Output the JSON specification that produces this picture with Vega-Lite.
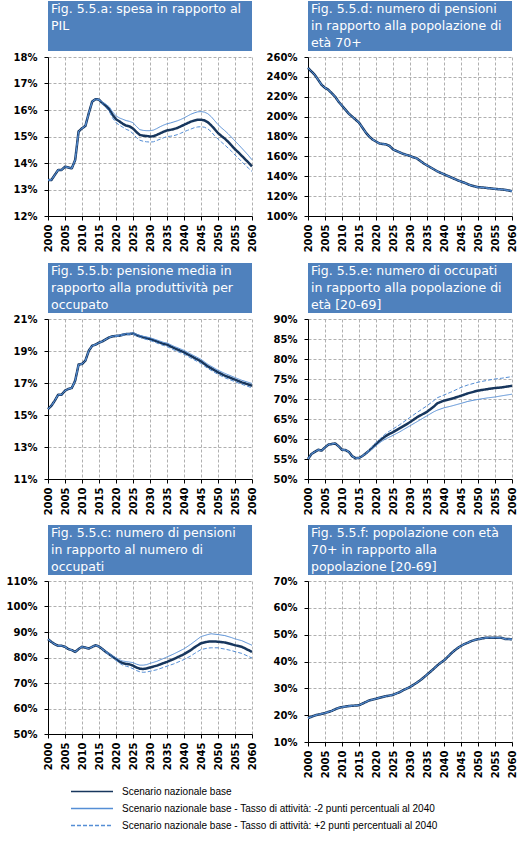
{
"$schema": "https://vega.github.io/schema/vega-lite/v6.json",
"padding": {"left": 6, "top": 1, "right": 0, "bottom": 0},
"background": "white",
"config": {
  "font": "DejaVu Sans",
  "view": {"stroke": null},
  "axis": {"domainColor": "#000000", "tickColor": "#000000", "labelColor": "#000000", "labelFont": "DejaVu Sans", "labelFontSize": 10, "labelFontWeight": "bold", "gridColor": "#B0B0B0", "gridDash": [3, 2], "gridWidth": 1, "tickSize": 4, "domainWidth": 1, "title": null},
  "axisX": {"labelAngle": 270, "labelPadding": 4},
  "axisY": {"labelPadding": 7},
  "legend": {"orient": "none", "legendX": 22, "legendY": 783, "title": null, "symbolType": "stroke", "symbolSize": 1764, "symbolStrokeWidth": 1.5, "clipHeight": 15, "rowPadding": 2, "labelFont": "Liberation Sans", "labelFontSize": 10, "labelColor": "#000000", "labelLimit": 500, "labelOffset": 8, "padding": 0}
},
"datasets": {
  "series": [
    {"panel":"a","year":2000,"base":13.36,"m2":13.36,"p2":13.36},
    {"panel":"a","year":2001,"base":13.36,"m2":13.36,"p2":13.36},
    {"panel":"a","year":2002,"base":13.55,"m2":13.55,"p2":13.55},
    {"panel":"a","year":2003,"base":13.74,"m2":13.74,"p2":13.74},
    {"panel":"a","year":2004,"base":13.74,"m2":13.74,"p2":13.74},
    {"panel":"a","year":2005,"base":13.86,"m2":13.86,"p2":13.86},
    {"panel":"a","year":2006,"base":13.83,"m2":13.83,"p2":13.83},
    {"panel":"a","year":2007,"base":13.80,"m2":13.80,"p2":13.80},
    {"panel":"a","year":2008,"base":14.12,"m2":14.12,"p2":14.12},
    {"panel":"a","year":2009,"base":15.19,"m2":15.19,"p2":15.19},
    {"panel":"a","year":2010,"base":15.31,"m2":15.31,"p2":15.31},
    {"panel":"a","year":2011,"base":15.40,"m2":15.40,"p2":15.40},
    {"panel":"a","year":2012,"base":15.88,"m2":15.88,"p2":15.88},
    {"panel":"a","year":2013,"base":16.32,"m2":16.32,"p2":16.32},
    {"panel":"a","year":2014,"base":16.41,"m2":16.41,"p2":16.41},
    {"panel":"a","year":2015,"base":16.39,"m2":16.40,"p2":16.38},
    {"panel":"a","year":2016,"base":16.26,"m2":16.30,"p2":16.22},
    {"panel":"a","year":2017,"base":16.16,"m2":16.22,"p2":16.10},
    {"panel":"a","year":2018,"base":16.03,"m2":16.12,"p2":15.95},
    {"panel":"a","year":2019,"base":15.82,"m2":15.93,"p2":15.70},
    {"panel":"a","year":2020,"base":15.65,"m2":15.78,"p2":15.52},
    {"panel":"a","year":2021,"base":15.57,"m2":15.70,"p2":15.43},
    {"panel":"a","year":2022,"base":15.48,"m2":15.65,"p2":15.35},
    {"panel":"a","year":2023,"base":15.41,"m2":15.60,"p2":15.27},
    {"panel":"a","year":2024,"base":15.38,"m2":15.57,"p2":15.22},
    {"panel":"a","year":2025,"base":15.30,"m2":15.52,"p2":15.11},
    {"panel":"a","year":2026,"base":15.17,"m2":15.38,"p2":14.96},
    {"panel":"a","year":2027,"base":15.06,"m2":15.26,"p2":14.86},
    {"panel":"a","year":2028,"base":15.03,"m2":15.23,"p2":14.82},
    {"panel":"a","year":2029,"base":15.02,"m2":15.22,"p2":14.80},
    {"panel":"a","year":2030,"base":15.00,"m2":15.22,"p2":14.79},
    {"panel":"a","year":2031,"base":15.01,"m2":15.24,"p2":14.80},
    {"panel":"a","year":2032,"base":15.06,"m2":15.30,"p2":14.85},
    {"panel":"a","year":2033,"base":15.12,"m2":15.37,"p2":14.90},
    {"panel":"a","year":2034,"base":15.18,"m2":15.43,"p2":14.95},
    {"panel":"a","year":2035,"base":15.23,"m2":15.48,"p2":15.00},
    {"panel":"a","year":2036,"base":15.25,"m2":15.51,"p2":15.01},
    {"panel":"a","year":2037,"base":15.28,"m2":15.55,"p2":15.03},
    {"panel":"a","year":2038,"base":15.32,"m2":15.59,"p2":15.07},
    {"panel":"a","year":2039,"base":15.38,"m2":15.64,"p2":15.12},
    {"panel":"a","year":2040,"base":15.44,"m2":15.70,"p2":15.18},
    {"panel":"a","year":2041,"base":15.50,"m2":15.77,"p2":15.23},
    {"panel":"a","year":2042,"base":15.56,"m2":15.84,"p2":15.28},
    {"panel":"a","year":2043,"base":15.60,"m2":15.89,"p2":15.33},
    {"panel":"a","year":2044,"base":15.63,"m2":15.93,"p2":15.36},
    {"panel":"a","year":2045,"base":15.63,"m2":15.94,"p2":15.37},
    {"panel":"a","year":2046,"base":15.61,"m2":15.92,"p2":15.35},
    {"panel":"a","year":2047,"base":15.54,"m2":15.86,"p2":15.29},
    {"panel":"a","year":2048,"base":15.42,"m2":15.75,"p2":15.18},
    {"panel":"a","year":2049,"base":15.28,"m2":15.60,"p2":15.03},
    {"panel":"a","year":2050,"base":15.13,"m2":15.45,"p2":14.90},
    {"panel":"a","year":2051,"base":15.02,"m2":15.33,"p2":14.79},
    {"panel":"a","year":2052,"base":14.92,"m2":15.22,"p2":14.68},
    {"panel":"a","year":2053,"base":14.80,"m2":15.10,"p2":14.56},
    {"panel":"a","year":2054,"base":14.66,"m2":14.97,"p2":14.44},
    {"panel":"a","year":2055,"base":14.52,"m2":14.83,"p2":14.30},
    {"panel":"a","year":2056,"base":14.40,"m2":14.70,"p2":14.18},
    {"panel":"a","year":2057,"base":14.27,"m2":14.56,"p2":14.05},
    {"panel":"a","year":2058,"base":14.14,"m2":14.42,"p2":13.92},
    {"panel":"a","year":2059,"base":14.01,"m2":14.28,"p2":13.80},
    {"panel":"a","year":2060,"base":13.87,"m2":14.12,"p2":13.68},

    {"panel":"b","year":2000,"base":15.37,"m2":15.37,"p2":15.37},
    {"panel":"b","year":2001,"base":15.58,"m2":15.58,"p2":15.58},
    {"panel":"b","year":2002,"base":15.90,"m2":15.90,"p2":15.90},
    {"panel":"b","year":2003,"base":16.27,"m2":16.27,"p2":16.27},
    {"panel":"b","year":2004,"base":16.27,"m2":16.27,"p2":16.27},
    {"panel":"b","year":2005,"base":16.52,"m2":16.52,"p2":16.52},
    {"panel":"b","year":2006,"base":16.63,"m2":16.63,"p2":16.63},
    {"panel":"b","year":2007,"base":16.69,"m2":16.69,"p2":16.69},
    {"panel":"b","year":2008,"base":17.15,"m2":17.15,"p2":17.15},
    {"panel":"b","year":2009,"base":18.15,"m2":18.15,"p2":18.15},
    {"panel":"b","year":2010,"base":18.19,"m2":18.19,"p2":18.19},
    {"panel":"b","year":2011,"base":18.40,"m2":18.40,"p2":18.40},
    {"panel":"b","year":2012,"base":19.02,"m2":19.02,"p2":19.02},
    {"panel":"b","year":2013,"base":19.33,"m2":19.33,"p2":19.33},
    {"panel":"b","year":2014,"base":19.40,"m2":19.40,"p2":19.40},
    {"panel":"b","year":2015,"base":19.52,"m2":19.52,"p2":19.52},
    {"panel":"b","year":2016,"base":19.60,"m2":19.60,"p2":19.60},
    {"panel":"b","year":2017,"base":19.73,"m2":19.73,"p2":19.73},
    {"panel":"b","year":2018,"base":19.85,"m2":19.85,"p2":19.85},
    {"panel":"b","year":2019,"base":19.92,"m2":19.92,"p2":19.92},
    {"panel":"b","year":2020,"base":19.94,"m2":19.96,"p2":19.92},
    {"panel":"b","year":2021,"base":19.96,"m2":19.99,"p2":19.93},
    {"panel":"b","year":2022,"base":20.02,"m2":20.05,"p2":19.98},
    {"panel":"b","year":2023,"base":20.06,"m2":20.09,"p2":20.02},
    {"panel":"b","year":2024,"base":20.06,"m2":20.10,"p2":20.02},
    {"panel":"b","year":2025,"base":20.10,"m2":20.14,"p2":20.05},
    {"panel":"b","year":2026,"base":20.00,"m2":20.05,"p2":19.94},
    {"panel":"b","year":2027,"base":19.92,"m2":19.98,"p2":19.86},
    {"panel":"b","year":2028,"base":19.85,"m2":19.92,"p2":19.78},
    {"panel":"b","year":2030,"base":19.75,"m2":19.83,"p2":19.66},
    {"panel":"b","year":2032,"base":19.60,"m2":19.69,"p2":19.50},
    {"panel":"b","year":2034,"base":19.44,"m2":19.54,"p2":19.34},
    {"panel":"b","year":2035,"base":19.40,"m2":19.50,"p2":19.28},
    {"panel":"b","year":2037,"base":19.19,"m2":19.30,"p2":19.07},
    {"panel":"b","year":2040,"base":18.92,"m2":19.04,"p2":18.80},
    {"panel":"b","year":2042,"base":18.69,"m2":18.81,"p2":18.56},
    {"panel":"b","year":2045,"base":18.35,"m2":18.48,"p2":18.22},
    {"panel":"b","year":2047,"base":18.04,"m2":18.17,"p2":17.91},
    {"panel":"b","year":2050,"base":17.67,"m2":17.80,"p2":17.54},
    {"panel":"b","year":2052,"base":17.46,"m2":17.60,"p2":17.33},
    {"panel":"b","year":2055,"base":17.21,"m2":17.34,"p2":17.08},
    {"panel":"b","year":2057,"base":17.04,"m2":17.17,"p2":16.92},
    {"panel":"b","year":2060,"base":16.83,"m2":16.97,"p2":16.70},

    {"panel":"c","year":2000,"base":87.2,"m2":87.2,"p2":87.2},
    {"panel":"c","year":2001,"base":86.1,"m2":86.1,"p2":86.1},
    {"panel":"c","year":2002,"base":85.2,"m2":85.2,"p2":85.2},
    {"panel":"c","year":2003,"base":84.6,"m2":84.6,"p2":84.6},
    {"panel":"c","year":2004,"base":84.6,"m2":84.6,"p2":84.6},
    {"panel":"c","year":2005,"base":84.2,"m2":84.2,"p2":84.2},
    {"panel":"c","year":2006,"base":83.3,"m2":83.3,"p2":83.3},
    {"panel":"c","year":2007,"base":82.9,"m2":82.9,"p2":82.9},
    {"panel":"c","year":2008,"base":82.2,"m2":82.2,"p2":82.2},
    {"panel":"c","year":2009,"base":83.3,"m2":83.3,"p2":83.3},
    {"panel":"c","year":2010,"base":84.2,"m2":84.2,"p2":84.2},
    {"panel":"c","year":2011,"base":83.9,"m2":83.9,"p2":83.9},
    {"panel":"c","year":2012,"base":83.5,"m2":83.5,"p2":83.5},
    {"panel":"c","year":2013,"base":84.2,"m2":84.2,"p2":84.2},
    {"panel":"c","year":2014,"base":84.8,"m2":84.8,"p2":84.8},
    {"panel":"c","year":2015,"base":84.3,"m2":84.3,"p2":84.3},
    {"panel":"c","year":2016,"base":83.3,"m2":83.4,"p2":83.2},
    {"panel":"c","year":2017,"base":82.2,"m2":82.4,"p2":82.0},
    {"panel":"c","year":2018,"base":81.3,"m2":81.6,"p2":81.0},
    {"panel":"c","year":2019,"base":80.3,"m2":80.7,"p2":79.9},
    {"panel":"c","year":2020,"base":79.4,"m2":79.9,"p2":78.9},
    {"panel":"c","year":2021,"base":78.4,"m2":79.1,"p2":77.8},
    {"panel":"c","year":2022,"base":77.8,"m2":78.6,"p2":77.0},
    {"panel":"c","year":2023,"base":77.5,"m2":78.4,"p2":76.6},
    {"panel":"c","year":2024,"base":77.3,"m2":78.2,"p2":76.2},
    {"panel":"c","year":2025,"base":76.8,"m2":78.0,"p2":75.6},
    {"panel":"c","year":2026,"base":76.1,"m2":77.4,"p2":74.9},
    {"panel":"c","year":2027,"base":75.6,"m2":77.0,"p2":74.4},
    {"panel":"c","year":2028,"base":75.5,"m2":77.0,"p2":74.2},
    {"panel":"c","year":2029,"base":75.7,"m2":77.2,"p2":74.3},
    {"panel":"c","year":2030,"base":76.1,"m2":77.7,"p2":74.6},
    {"panel":"c","year":2032,"base":76.8,"m2":78.5,"p2":75.2},
    {"panel":"c","year":2035,"base":78.3,"m2":80.2,"p2":76.6},
    {"panel":"c","year":2037,"base":79.4,"m2":81.4,"p2":77.5},
    {"panel":"c","year":2040,"base":81.3,"m2":83.4,"p2":79.2},
    {"panel":"c","year":2042,"base":82.9,"m2":85.2,"p2":80.6},
    {"panel":"c","year":2043,"base":83.9,"m2":86.2,"p2":81.5},
    {"panel":"c","year":2045,"base":85.6,"m2":88.2,"p2":83.1},
    {"panel":"c","year":2047,"base":86.2,"m2":89.0,"p2":83.7},
    {"panel":"c","year":2048,"base":86.3,"m2":89.3,"p2":83.8},
    {"panel":"c","year":2050,"base":86.2,"m2":89.0,"p2":83.8},
    {"panel":"c","year":2052,"base":85.9,"m2":88.6,"p2":83.3},
    {"panel":"c","year":2054,"base":85.2,"m2":87.8,"p2":82.7},
    {"panel":"c","year":2055,"base":84.8,"m2":87.3,"p2":82.3},
    {"panel":"c","year":2057,"base":84.2,"m2":86.6,"p2":81.6},
    {"panel":"c","year":2060,"base":82.2,"m2":84.8,"p2":79.8},

    {"panel":"d","year":2000,"base":249,"m2":249,"p2":249},
    {"panel":"d","year":2001,"base":245.5,"m2":245.5,"p2":245.5},
    {"panel":"d","year":2002,"base":242,"m2":242,"p2":242},
    {"panel":"d","year":2003,"base":237,"m2":237,"p2":237},
    {"panel":"d","year":2004,"base":232,"m2":232,"p2":232},
    {"panel":"d","year":2005,"base":229,"m2":229,"p2":229},
    {"panel":"d","year":2006,"base":227,"m2":227,"p2":227},
    {"panel":"d","year":2007,"base":223.5,"m2":223.5,"p2":223.5},
    {"panel":"d","year":2008,"base":220,"m2":220,"p2":220},
    {"panel":"d","year":2009,"base":215,"m2":215,"p2":215},
    {"panel":"d","year":2010,"base":211,"m2":211,"p2":211},
    {"panel":"d","year":2011,"base":207,"m2":207,"p2":207},
    {"panel":"d","year":2012,"base":203,"m2":203,"p2":203},
    {"panel":"d","year":2013,"base":200,"m2":200,"p2":200},
    {"panel":"d","year":2014,"base":197,"m2":197,"p2":197},
    {"panel":"d","year":2015,"base":194,"m2":194,"p2":194},
    {"panel":"d","year":2016,"base":189,"m2":189,"p2":189},
    {"panel":"d","year":2017,"base":184,"m2":184,"p2":184},
    {"panel":"d","year":2018,"base":180,"m2":180,"p2":180},
    {"panel":"d","year":2019,"base":177,"m2":177,"p2":177},
    {"panel":"d","year":2020,"base":175,"m2":175,"p2":175},
    {"panel":"d","year":2021,"base":173,"m2":173,"p2":173},
    {"panel":"d","year":2022,"base":172.5,"m2":172.5,"p2":172.5},
    {"panel":"d","year":2023,"base":172,"m2":172,"p2":172},
    {"panel":"d","year":2024,"base":170.5,"m2":170.5,"p2":170.5},
    {"panel":"d","year":2025,"base":167,"m2":167,"p2":167},
    {"panel":"d","year":2026,"base":165.5,"m2":165.5,"p2":165.5},
    {"panel":"d","year":2027,"base":164,"m2":164,"p2":164},
    {"panel":"d","year":2028,"base":162.5,"m2":162.5,"p2":162.5},
    {"panel":"d","year":2029,"base":161.5,"m2":161.5,"p2":161.5},
    {"panel":"d","year":2030,"base":160.5,"m2":160.5,"p2":160.5},
    {"panel":"d","year":2031,"base":159,"m2":159,"p2":159},
    {"panel":"d","year":2032,"base":158,"m2":158,"p2":158},
    {"panel":"d","year":2033,"base":155.5,"m2":155.5,"p2":155.5},
    {"panel":"d","year":2034,"base":153,"m2":153,"p2":153},
    {"panel":"d","year":2035,"base":151,"m2":151,"p2":151},
    {"panel":"d","year":2036,"base":149,"m2":149,"p2":149},
    {"panel":"d","year":2037,"base":147,"m2":147,"p2":147},
    {"panel":"d","year":2038,"base":145,"m2":145,"p2":145},
    {"panel":"d","year":2039,"base":143.5,"m2":143.5,"p2":143.5},
    {"panel":"d","year":2040,"base":142,"m2":142,"p2":142},
    {"panel":"d","year":2041,"base":140.5,"m2":140.5,"p2":140.5},
    {"panel":"d","year":2042,"base":139,"m2":139,"p2":139},
    {"panel":"d","year":2043,"base":137.5,"m2":137.5,"p2":137.5},
    {"panel":"d","year":2044,"base":136,"m2":136,"p2":136},
    {"panel":"d","year":2045,"base":134.7,"m2":134.7,"p2":134.7},
    {"panel":"d","year":2046,"base":133.5,"m2":133.5,"p2":133.5},
    {"panel":"d","year":2047,"base":132,"m2":132,"p2":132},
    {"panel":"d","year":2048,"base":130.7,"m2":130.7,"p2":130.7},
    {"panel":"d","year":2049,"base":129.8,"m2":129.8,"p2":129.8},
    {"panel":"d","year":2050,"base":129,"m2":129,"p2":129},
    {"panel":"d","year":2052,"base":128.5,"m2":128.5,"p2":128.5},
    {"panel":"d","year":2053,"base":128,"m2":128,"p2":128},
    {"panel":"d","year":2055,"base":127.3,"m2":127.3,"p2":127.3},
    {"panel":"d","year":2057,"base":126.7,"m2":126.7,"p2":126.7},
    {"panel":"d","year":2058,"base":126.3,"m2":126.3,"p2":126.3},
    {"panel":"d","year":2060,"base":125,"m2":125,"p2":125},

    {"panel":"e","year":2000,"base":55.0,"m2":55.0,"p2":55.0},
    {"panel":"e","year":2001,"base":56.25,"m2":56.25,"p2":56.25},
    {"panel":"e","year":2002,"base":56.8,"m2":56.8,"p2":56.8},
    {"panel":"e","year":2003,"base":57.3,"m2":57.3,"p2":57.3},
    {"panel":"e","year":2004,"base":57.1,"m2":57.1,"p2":57.1},
    {"panel":"e","year":2005,"base":57.9,"m2":57.9,"p2":57.9},
    {"panel":"e","year":2006,"base":58.6,"m2":58.6,"p2":58.6},
    {"panel":"e","year":2007,"base":58.75,"m2":58.75,"p2":58.75},
    {"panel":"e","year":2008,"base":58.9,"m2":58.9,"p2":58.9},
    {"panel":"e","year":2009,"base":58.2,"m2":58.2,"p2":58.2},
    {"panel":"e","year":2010,"base":57.3,"m2":57.3,"p2":57.3},
    {"panel":"e","year":2011,"base":57.25,"m2":57.25,"p2":57.25},
    {"panel":"e","year":2012,"base":56.8,"m2":56.8,"p2":56.8},
    {"panel":"e","year":2013,"base":55.7,"m2":55.7,"p2":55.7},
    {"panel":"e","year":2014,"base":55.2,"m2":55.2,"p2":55.2},
    {"panel":"e","year":2015,"base":55.25,"m2":55.25,"p2":55.25},
    {"panel":"e","year":2016,"base":55.75,"m2":55.7,"p2":55.8},
    {"panel":"e","year":2017,"base":56.4,"m2":56.3,"p2":56.5},
    {"panel":"e","year":2018,"base":57.1,"m2":56.9,"p2":57.3},
    {"panel":"e","year":2019,"base":57.9,"m2":57.6,"p2":58.2},
    {"panel":"e","year":2020,"base":58.75,"m2":58.3,"p2":59.1},
    {"panel":"e","year":2021,"base":59.5,"m2":59.0,"p2":59.9},
    {"panel":"e","year":2022,"base":60.2,"m2":59.6,"p2":60.7},
    {"panel":"e","year":2023,"base":60.8,"m2":60.1,"p2":61.4},
    {"panel":"e","year":2024,"base":61.3,"m2":60.5,"p2":62.0},
    {"panel":"e","year":2025,"base":61.7,"m2":60.9,"p2":62.5},
    {"panel":"e","year":2027,"base":62.7,"m2":61.8,"p2":63.6},
    {"panel":"e","year":2030,"base":64.2,"m2":63.3,"p2":65.4},
    {"panel":"e","year":2032,"base":65.4,"m2":64.3,"p2":66.6},
    {"panel":"e","year":2035,"base":66.8,"m2":65.8,"p2":68.3},
    {"panel":"e","year":2037,"base":68.1,"m2":66.8,"p2":69.6},
    {"panel":"e","year":2038,"base":68.9,"m2":67.2,"p2":70.3},
    {"panel":"e","year":2040,"base":69.6,"m2":67.8,"p2":71.0},
    {"panel":"e","year":2042,"base":70.0,"m2":68.2,"p2":71.7},
    {"panel":"e","year":2045,"base":70.8,"m2":68.9,"p2":72.9},
    {"panel":"e","year":2047,"base":71.4,"m2":69.4,"p2":73.5},
    {"panel":"e","year":2050,"base":72.1,"m2":69.9,"p2":74.2},
    {"panel":"e","year":2053,"base":72.5,"m2":70.3,"p2":74.7},
    {"panel":"e","year":2055,"base":72.75,"m2":70.5,"p2":75.0},
    {"panel":"e","year":2057,"base":72.9,"m2":70.8,"p2":75.2},
    {"panel":"e","year":2060,"base":73.3,"m2":71.2,"p2":75.6},

    {"panel":"f","year":2000,"base":18.9,"m2":18.9,"p2":18.9},
    {"panel":"f","year":2001,"base":19.4,"m2":19.4,"p2":19.4},
    {"panel":"f","year":2002,"base":19.9,"m2":19.9,"p2":19.9},
    {"panel":"f","year":2003,"base":20.2,"m2":20.2,"p2":20.2},
    {"panel":"f","year":2004,"base":20.5,"m2":20.5,"p2":20.5},
    {"panel":"f","year":2005,"base":20.8,"m2":20.8,"p2":20.8},
    {"panel":"f","year":2006,"base":21.2,"m2":21.2,"p2":21.2},
    {"panel":"f","year":2007,"base":21.6,"m2":21.6,"p2":21.6},
    {"panel":"f","year":2008,"base":22.2,"m2":22.2,"p2":22.2},
    {"panel":"f","year":2009,"base":22.7,"m2":22.7,"p2":22.7},
    {"panel":"f","year":2010,"base":23.0,"m2":23.0,"p2":23.0},
    {"panel":"f","year":2011,"base":23.2,"m2":23.2,"p2":23.2},
    {"panel":"f","year":2012,"base":23.4,"m2":23.4,"p2":23.4},
    {"panel":"f","year":2013,"base":23.5,"m2":23.5,"p2":23.5},
    {"panel":"f","year":2014,"base":23.6,"m2":23.6,"p2":23.6},
    {"panel":"f","year":2015,"base":23.7,"m2":23.7,"p2":23.7},
    {"panel":"f","year":2016,"base":24.3,"m2":24.3,"p2":24.3},
    {"panel":"f","year":2017,"base":24.9,"m2":24.9,"p2":24.9},
    {"panel":"f","year":2018,"base":25.5,"m2":25.5,"p2":25.5},
    {"panel":"f","year":2019,"base":25.8,"m2":25.8,"p2":25.8},
    {"panel":"f","year":2020,"base":26.1,"m2":26.1,"p2":26.1},
    {"panel":"f","year":2021,"base":26.5,"m2":26.5,"p2":26.5},
    {"panel":"f","year":2022,"base":26.8,"m2":26.8,"p2":26.8},
    {"panel":"f","year":2023,"base":27.1,"m2":27.1,"p2":27.1},
    {"panel":"f","year":2024,"base":27.3,"m2":27.3,"p2":27.3},
    {"panel":"f","year":2025,"base":27.6,"m2":27.6,"p2":27.6},
    {"panel":"f","year":2026,"base":28.1,"m2":28.1,"p2":28.1},
    {"panel":"f","year":2027,"base":28.6,"m2":28.6,"p2":28.6},
    {"panel":"f","year":2028,"base":29.3,"m2":29.3,"p2":29.3},
    {"panel":"f","year":2029,"base":29.9,"m2":29.9,"p2":29.9},
    {"panel":"f","year":2030,"base":30.5,"m2":30.5,"p2":30.5},
    {"panel":"f","year":2031,"base":31.3,"m2":31.3,"p2":31.3},
    {"panel":"f","year":2032,"base":32.1,"m2":32.1,"p2":32.1},
    {"panel":"f","year":2033,"base":33.0,"m2":33.0,"p2":33.0},
    {"panel":"f","year":2034,"base":34.0,"m2":34.0,"p2":34.0},
    {"panel":"f","year":2035,"base":35.1,"m2":35.1,"p2":35.1},
    {"panel":"f","year":2036,"base":36.2,"m2":36.2,"p2":36.2},
    {"panel":"f","year":2037,"base":37.3,"m2":37.3,"p2":37.3},
    {"panel":"f","year":2038,"base":38.5,"m2":38.5,"p2":38.5},
    {"panel":"f","year":2039,"base":39.5,"m2":39.5,"p2":39.5},
    {"panel":"f","year":2040,"base":40.4,"m2":40.4,"p2":40.4},
    {"panel":"f","year":2041,"base":41.6,"m2":41.6,"p2":41.6},
    {"panel":"f","year":2042,"base":42.9,"m2":42.9,"p2":42.9},
    {"panel":"f","year":2043,"base":44.0,"m2":44.0,"p2":44.0},
    {"panel":"f","year":2044,"base":45.0,"m2":45.0,"p2":45.0},
    {"panel":"f","year":2045,"base":45.8,"m2":45.8,"p2":45.8},
    {"panel":"f","year":2046,"base":46.5,"m2":46.5,"p2":46.5},
    {"panel":"f","year":2047,"base":47.0,"m2":47.0,"p2":47.0},
    {"panel":"f","year":2048,"base":47.6,"m2":47.6,"p2":47.6},
    {"panel":"f","year":2049,"base":48.0,"m2":48.0,"p2":48.0},
    {"panel":"f","year":2050,"base":48.3,"m2":48.3,"p2":48.3},
    {"panel":"f","year":2052,"base":48.8,"m2":48.8,"p2":48.8},
    {"panel":"f","year":2055,"base":48.9,"m2":48.9,"p2":48.9},
    {"panel":"f","year":2057,"base":48.8,"m2":48.8,"p2":48.8},
    {"panel":"f","year":2058,"base":48.4,"m2":48.4,"p2":48.4},
    {"panel":"f","year":2060,"base":48.3,"m2":48.3,"p2":48.3}
  ]
},
"columns": 2,
"bounds": "flush",
"align": "each",
"spacing": {"row": 6, "column": 56},
"concat": [
  {"width": 204, "height": 50, "view": {"fill": "#4F81BD", "stroke": null},
   "data": {"values": [{"line": 1, "text": "Fig. 5.5.a: spesa in rapporto al"}, {"line": 2, "text": "PIL"}]},
   "mark": {"type": "text", "align": "left", "baseline": "middle", "dx": 3, "color": "#FFFFFF", "font": "DejaVu Sans", "fontSize": 12.5},
   "encoding": {"x": {"datum": 0, "type": "quantitative", "scale": {"domain": [0, 1]}, "axis": null},
                "y": {"field": "line", "type": "ordinal", "scale": {"domain": [1, 2, 3], "paddingInner": 0, "paddingOuter": 0.0625}, "axis": null},
                "text": {"field": "text"}}},
  {"width": 204, "height": 50, "view": {"fill": "#4F81BD", "stroke": null},
   "data": {"values": [{"line": 1, "text": "Fig. 5.5.d: numero di pensioni"}, {"line": 2, "text": "in rapporto alla popolazione di"}, {"line": 3, "text": "età 70+"}]},
   "mark": {"type": "text", "align": "left", "baseline": "middle", "dx": 3, "color": "#FFFFFF", "font": "DejaVu Sans", "fontSize": 12.5},
   "encoding": {"x": {"datum": 0, "type": "quantitative", "scale": {"domain": [0, 1]}, "axis": null},
                "y": {"field": "line", "type": "ordinal", "scale": {"domain": [1, 2, 3], "paddingInner": 0, "paddingOuter": 0.0625}, "axis": null},
                "text": {"field": "text"}}},
  {"width": 204, "height": 159, "data": {"name": "series"},
   "transform": [{"filter": "datum.panel == 'a'"}, {"fold": ["base", "m2", "p2"], "as": ["scenario", "value"]}],
   "encoding": {
     "x": {"field": "year", "type": "quantitative", "scale": {"domain": [2000, 2060], "nice": false, "zero": false}, "axis": {"values": [2000,2005,2010,2015,2020,2025,2030,2035,2040,2045,2050,2055,2060], "format": "d"}},
     "y": {"field": "value", "type": "quantitative", "scale": {"domain": [12, 18], "nice": false, "zero": false}, "axis": {"values": [12,13,14,15,16,17,18], "labelExpr": "datum.value + '%'"}},
     "color": {"field": "scenario", "type": "nominal", "scale": {"domain": ["base","m2","p2"], "range": ["#17365D","#558ED5","#558ED5"]}, "legend": {"orient": "none", "legendX": 22, "legendY": 783, "labelExpr": "datum.label == 'base' ? 'Scenario nazionale base' : datum.label == 'm2' ? 'Scenario nazionale base - Tasso di attività: -2 punti percentuali al 2040' : 'Scenario nazionale base - Tasso di attività: +2 punti percentuali al 2040'"}},
     "strokeDash": {"field": "scenario", "type": "nominal", "scale": {"domain": ["base","m2","p2"], "range": [[1,0],[1,0],[4,2]]}, "legend": {"orient": "none", "legendX": 22, "legendY": 783, "labelExpr": "datum.label == 'base' ? 'Scenario nazionale base' : datum.label == 'm2' ? 'Scenario nazionale base - Tasso di attività: -2 punti percentuali al 2040' : 'Scenario nazionale base - Tasso di attività: +2 punti percentuali al 2040'"}}
   },
   "layer": [
     {"transform": [{"filter": "datum.scenario == 'base'"}], "mark": {"type": "line", "strokeWidth": 2.5, "strokeJoin": "round"}},
     {"transform": [{"filter": "datum.scenario == 'm2'"}], "mark": {"type": "line", "strokeWidth": 1}},
     {"transform": [{"filter": "datum.scenario == 'p2'"}], "mark": {"type": "line", "strokeWidth": 1}}
   ]},
  {"width": 204, "height": 159, "data": {"name": "series"},
   "transform": [{"filter": "datum.panel == 'd'"}, {"fold": ["base", "m2", "p2"], "as": ["scenario", "value"]}],
   "encoding": {
     "x": {"field": "year", "type": "quantitative", "scale": {"domain": [2000, 2060], "nice": false, "zero": false}, "axis": {"values": [2000,2005,2010,2015,2020,2025,2030,2035,2040,2045,2050,2055,2060], "format": "d"}},
     "y": {"field": "value", "type": "quantitative", "scale": {"domain": [100, 260], "nice": false, "zero": false}, "axis": {"values": [100,120,140,160,180,200,220,240,260], "labelExpr": "datum.value + '%'"}},
     "color": {"field": "scenario", "type": "nominal", "scale": {"domain": ["base","m2","p2"], "range": ["#17365D","#558ED5","#558ED5"]}},
     "strokeDash": {"field": "scenario", "type": "nominal", "scale": {"domain": ["base","m2","p2"], "range": [[1,0],[1,0],[4,2]]}}
   },
   "layer": [
     {"transform": [{"filter": "datum.scenario == 'base'"}], "mark": {"type": "line", "strokeWidth": 2.5, "strokeJoin": "round"}},
     {"transform": [{"filter": "datum.scenario == 'm2'"}], "mark": {"type": "line", "strokeWidth": 1}},
     {"transform": [{"filter": "datum.scenario == 'p2'"}], "mark": {"type": "line", "strokeWidth": 1}}
   ]},
  {"width": 204, "height": 35, "data": {"values": [{"k": 0}]}, "mark": {"type": "point", "opacity": 0}},
  {"width": 204, "height": 35, "data": {"values": [{"k": 0}]}, "mark": {"type": "point", "opacity": 0}},
  {"width": 204, "height": 50, "view": {"fill": "#4F81BD", "stroke": null},
   "data": {"values": [{"line": 1, "text": "Fig. 5.5.b: pensione media in"}, {"line": 2, "text": "rapporto alla produttività per"}, {"line": 3, "text": "occupato"}]},
   "mark": {"type": "text", "align": "left", "baseline": "middle", "dx": 3, "color": "#FFFFFF", "font": "DejaVu Sans", "fontSize": 12.5},
   "encoding": {"x": {"datum": 0, "type": "quantitative", "scale": {"domain": [0, 1]}, "axis": null},
                "y": {"field": "line", "type": "ordinal", "scale": {"domain": [1, 2, 3], "paddingInner": 0, "paddingOuter": 0.0625}, "axis": null},
                "text": {"field": "text"}}},
  {"width": 204, "height": 50, "view": {"fill": "#4F81BD", "stroke": null},
   "data": {"values": [{"line": 1, "text": "Fig. 5.5.e: numero di occupati"}, {"line": 2, "text": "in rapporto alla popolazione di"}, {"line": 3, "text": "età [20-69]"}]},
   "mark": {"type": "text", "align": "left", "baseline": "middle", "dx": 3, "color": "#FFFFFF", "font": "DejaVu Sans", "fontSize": 12.5},
   "encoding": {"x": {"datum": 0, "type": "quantitative", "scale": {"domain": [0, 1]}, "axis": null},
                "y": {"field": "line", "type": "ordinal", "scale": {"domain": [1, 2, 3], "paddingInner": 0, "paddingOuter": 0.0625}, "axis": null},
                "text": {"field": "text"}}},
  {"width": 204, "height": 160, "data": {"name": "series"},
   "transform": [{"filter": "datum.panel == 'b'"}, {"fold": ["base", "m2", "p2"], "as": ["scenario", "value"]}],
   "encoding": {
     "x": {"field": "year", "type": "quantitative", "scale": {"domain": [2000, 2060], "nice": false, "zero": false}, "axis": {"values": [2000,2005,2010,2015,2020,2025,2030,2035,2040,2045,2050,2055,2060], "format": "d"}},
     "y": {"field": "value", "type": "quantitative", "scale": {"domain": [11, 21], "nice": false, "zero": false}, "axis": {"values": [11,13,15,17,19,21], "labelExpr": "datum.value + '%'"}},
     "color": {"field": "scenario", "type": "nominal", "scale": {"domain": ["base","m2","p2"], "range": ["#17365D","#558ED5","#558ED5"]}},
     "strokeDash": {"field": "scenario", "type": "nominal", "scale": {"domain": ["base","m2","p2"], "range": [[1,0],[1,0],[4,2]]}}
   },
   "layer": [
     {"transform": [{"filter": "datum.scenario == 'base'"}], "mark": {"type": "line", "strokeWidth": 2.5, "strokeJoin": "round"}},
     {"transform": [{"filter": "datum.scenario == 'm2'"}], "mark": {"type": "line", "strokeWidth": 1}},
     {"transform": [{"filter": "datum.scenario == 'p2'"}], "mark": {"type": "line", "strokeWidth": 1}}
   ]},
  {"width": 204, "height": 160, "data": {"name": "series"},
   "transform": [{"filter": "datum.panel == 'e'"}, {"fold": ["base", "m2", "p2"], "as": ["scenario", "value"]}],
   "encoding": {
     "x": {"field": "year", "type": "quantitative", "scale": {"domain": [2000, 2060], "nice": false, "zero": false}, "axis": {"values": [2000,2005,2010,2015,2020,2025,2030,2035,2040,2045,2050,2055,2060], "format": "d"}},
     "y": {"field": "value", "type": "quantitative", "scale": {"domain": [50, 90], "nice": false, "zero": false}, "axis": {"values": [50,55,60,65,70,75,80,85,90], "labelExpr": "datum.value + '%'"}},
     "color": {"field": "scenario", "type": "nominal", "scale": {"domain": ["base","m2","p2"], "range": ["#17365D","#558ED5","#558ED5"]}},
     "strokeDash": {"field": "scenario", "type": "nominal", "scale": {"domain": ["base","m2","p2"], "range": [[1,0],[1,0],[4,2]]}}
   },
   "layer": [
     {"transform": [{"filter": "datum.scenario == 'base'"}], "mark": {"type": "line", "strokeWidth": 2.5, "strokeJoin": "round"}},
     {"transform": [{"filter": "datum.scenario == 'm2'"}], "mark": {"type": "line", "strokeWidth": 1}},
     {"transform": [{"filter": "datum.scenario == 'p2'"}], "mark": {"type": "line", "strokeWidth": 1}}
   ]},
  {"width": 204, "height": 34, "data": {"values": [{"k": 0}]}, "mark": {"type": "point", "opacity": 0}},
  {"width": 204, "height": 34, "data": {"values": [{"k": 0}]}, "mark": {"type": "point", "opacity": 0}},
  {"width": 204, "height": 50, "view": {"fill": "#4F81BD", "stroke": null},
   "data": {"values": [{"line": 1, "text": "Fig. 5.5.c: numero di pensioni"}, {"line": 2, "text": "in rapporto al numero di"}, {"line": 3, "text": "occupati"}]},
   "mark": {"type": "text", "align": "left", "baseline": "middle", "dx": 3, "color": "#FFFFFF", "font": "DejaVu Sans", "fontSize": 12.5},
   "encoding": {"x": {"datum": 0, "type": "quantitative", "scale": {"domain": [0, 1]}, "axis": null},
                "y": {"field": "line", "type": "ordinal", "scale": {"domain": [1, 2, 3], "paddingInner": 0, "paddingOuter": 0.0625}, "axis": null},
                "text": {"field": "text"}}},
  {"width": 204, "height": 50, "view": {"fill": "#4F81BD", "stroke": null},
   "data": {"values": [{"line": 1, "text": "Fig. 5.5.f: popolazione con età"}, {"line": 2, "text": "70+ in rapporto alla"}, {"line": 3, "text": "popolazione [20-69]"}]},
   "mark": {"type": "text", "align": "left", "baseline": "middle", "dx": 3, "color": "#FFFFFF", "font": "DejaVu Sans", "fontSize": 12.5},
   "encoding": {"x": {"datum": 0, "type": "quantitative", "scale": {"domain": [0, 1]}, "axis": null},
                "y": {"field": "line", "type": "ordinal", "scale": {"domain": [1, 2, 3], "paddingInner": 0, "paddingOuter": 0.0625}, "axis": null},
                "text": {"field": "text"}}},
  {"width": 204, "height": 153, "data": {"name": "series"},
   "transform": [{"filter": "datum.panel == 'c'"}, {"fold": ["base", "m2", "p2"], "as": ["scenario", "value"]}],
   "encoding": {
     "x": {"field": "year", "type": "quantitative", "scale": {"domain": [2000, 2060], "nice": false, "zero": false}, "axis": {"values": [2000,2005,2010,2015,2020,2025,2030,2035,2040,2045,2050,2055,2060], "format": "d"}},
     "y": {"field": "value", "type": "quantitative", "scale": {"domain": [50, 110], "nice": false, "zero": false}, "axis": {"values": [50,60,70,80,90,100,110], "labelExpr": "datum.value + '%'"}},
     "color": {"field": "scenario", "type": "nominal", "scale": {"domain": ["base","m2","p2"], "range": ["#17365D","#558ED5","#558ED5"]}},
     "strokeDash": {"field": "scenario", "type": "nominal", "scale": {"domain": ["base","m2","p2"], "range": [[1,0],[1,0],[4,2]]}}
   },
   "layer": [
     {"transform": [{"filter": "datum.scenario == 'base'"}], "mark": {"type": "line", "strokeWidth": 2.5, "strokeJoin": "round"}},
     {"transform": [{"filter": "datum.scenario == 'm2'"}], "mark": {"type": "line", "strokeWidth": 1}},
     {"transform": [{"filter": "datum.scenario == 'p2'"}], "mark": {"type": "line", "strokeWidth": 1}}
   ]},
  {"width": 204, "height": 161, "data": {"name": "series"},
   "transform": [{"filter": "datum.panel == 'f'"}, {"fold": ["base", "m2", "p2"], "as": ["scenario", "value"]}],
   "encoding": {
     "x": {"field": "year", "type": "quantitative", "scale": {"domain": [2000, 2060], "nice": false, "zero": false}, "axis": {"values": [2000,2005,2010,2015,2020,2025,2030,2035,2040,2045,2050,2055,2060], "format": "d"}},
     "y": {"field": "value", "type": "quantitative", "scale": {"domain": [10, 70], "nice": false, "zero": false}, "axis": {"values": [10,20,30,40,50,60,70], "labelExpr": "datum.value + '%'"}},
     "color": {"field": "scenario", "type": "nominal", "scale": {"domain": ["base","m2","p2"], "range": ["#17365D","#558ED5","#558ED5"]}},
     "strokeDash": {"field": "scenario", "type": "nominal", "scale": {"domain": ["base","m2","p2"], "range": [[1,0],[1,0],[4,2]]}}
   },
   "layer": [
     {"transform": [{"filter": "datum.scenario == 'base'"}], "mark": {"type": "line", "strokeWidth": 2.5, "strokeJoin": "round"}},
     {"transform": [{"filter": "datum.scenario == 'm2'"}], "mark": {"type": "line", "strokeWidth": 1}},
     {"transform": [{"filter": "datum.scenario == 'p2'"}], "mark": {"type": "line", "strokeWidth": 1}}
   ]}
]
}
